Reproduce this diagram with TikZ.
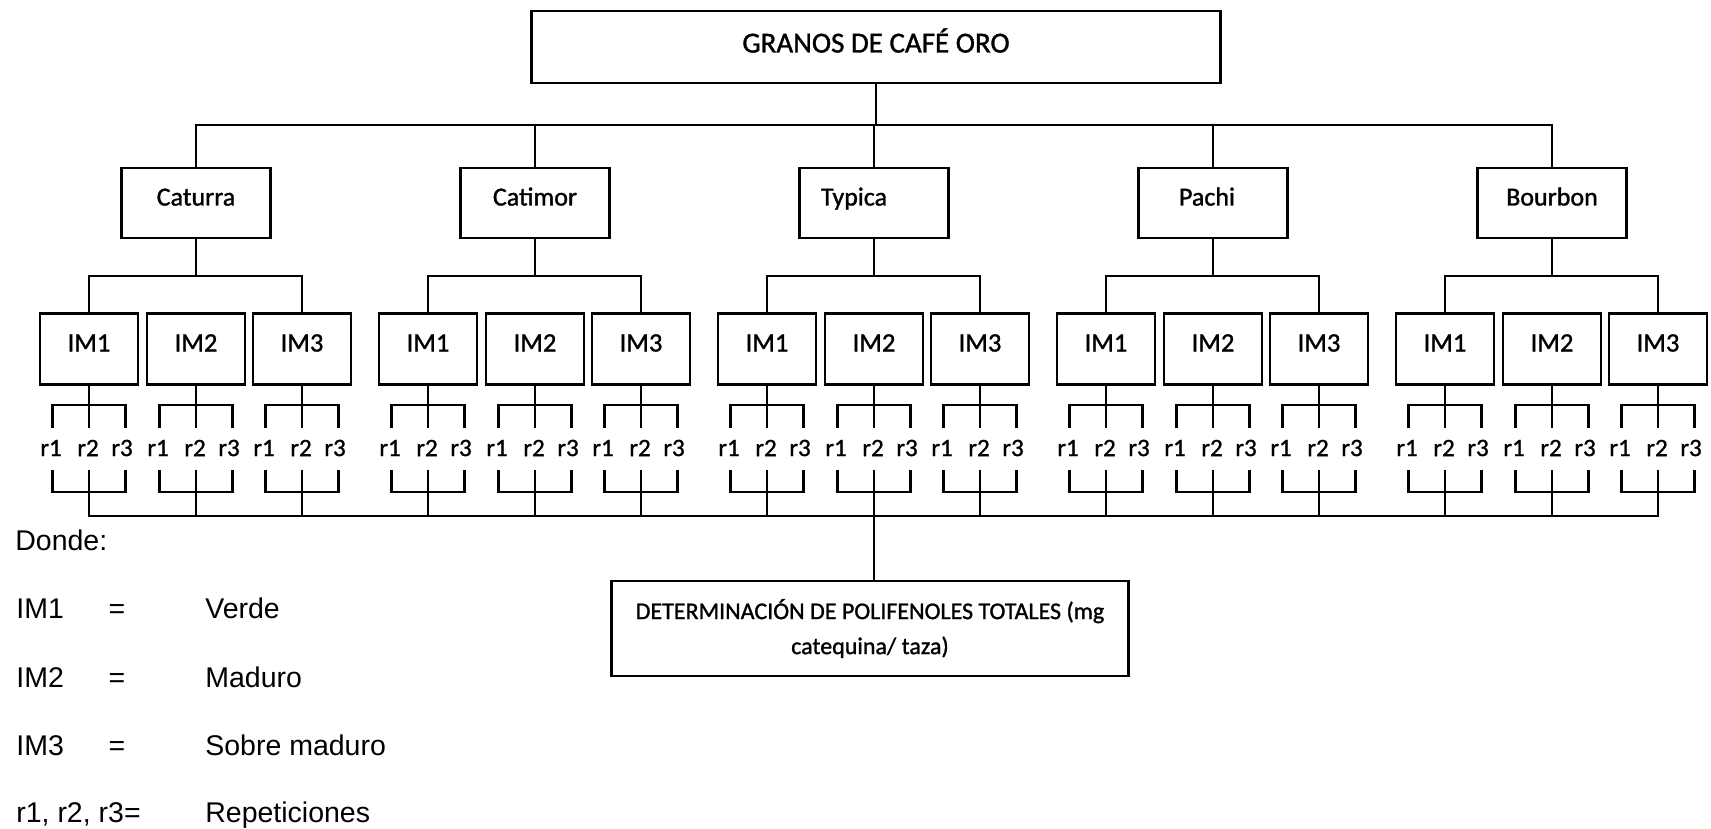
\documentclass[tikz,border=0pt]{standalone}
\usepackage{fontspec}
\setmainfont{Carlito}[FakeBold=1.2]
\newfontfamily\arialf{Liberation Sans}
\begin{document}
\begin{tikzpicture}[x=1pt,y=-1pt,
  line width=2.7pt, line cap=rect,
  boxbase/.style={draw, line width=2.7pt, inner sep=0pt, align=center},
  topbox/.style={boxbase, minimum width=689pt, minimum height=72pt, text height=19pt, text depth=8pt, font=\fontsize{29}{35}\selectfont},
  varbox/.style={boxbase, minimum width=149pt, minimum height=70pt, text height=17pt, text depth=12pt, font=\fontsize{26}{31}\selectfont},
  imbox/.style={boxbase, minimum width=98pt, minimum height=71pt, text height=17pt, text depth=12pt, font=\fontsize{26.5}{31}\selectfont},
  rlab/.style={inner sep=0pt, font=\fontsize{25}{30}\selectfont},
  botbox/.style={boxbase, minimum width=517pt, minimum height=95pt, font=\fontsize{24}{35}\selectfont},
  leg/.style={inner sep=0pt, anchor=base west, font=\arialf\fontsize{28.5}{34}\selectfont},
  legeq/.style={inner sep=0pt, anchor=base, font=\arialf\fontsize{28.5}{34}\selectfont}
]
\useasboundingbox (0,0) rectangle (1711,829);
\node[topbox] (top) at (876,47) {GRANOS DE CAFÉ ORO};
\coordinate (hub) at (876,125);
\draw (top.south) -- (hub);
\foreach \g/\nm/\sh in {0/Caturra/0,1/Catimor/0,2/Typica/40,3/Pachi/12,4/Bourbon/0}{
  \pgfmathsetmacro\vx{196+339*\g}
  \node[varbox] (v\g) at (\vx,203) {\hspace*{-\sh pt}\nm};
  \draw (v\g.north) -- (v\g.north |- hub);
  \coordinate (j\g) at (\vx,276);
  \draw (v\g.south) -- (j\g);
  \foreach \i/\off in {1/-107,2/0,3/106}{
    \pgfmathsetmacro\ix{\vx+\off}
    \node[imbox] (m\g\i) at (\ix,349) {IM\i};
    \coordinate (a\g\i) at (\ix,405);
    \coordinate (ul\g\i) at (\ix-36.5,427);
    \coordinate (um\g\i) at (\ix,427);
    \coordinate (ur\g\i) at (\ix+36.5,427);
    \draw (m\g\i.south) -- (um\g\i);
    \draw (ul\g\i) |- (a\g\i) -| (ur\g\i);
    \node[rlab] (r\g\i-1) at (\ix-38,448) {r1};
    \node[rlab] (r\g\i-2) at (\ix-1,448) {r2};
    \node[rlab] (r\g\i-3) at (\ix+33,448) {r3};
    \coordinate (ll\g\i) at (\ix-36.5,471);
    \coordinate (lm\g\i) at (\ix,471);
    \coordinate (lr\g\i) at (\ix+36.5,471);
    \coordinate (b\g\i) at (\ix,492);
    \coordinate (s\g\i) at (\ix,516);
    \draw (ll\g\i) |- (b\g\i) -| (lr\g\i);
    \draw (lm\g\i) -- (s\g\i);
  }
  \draw (m\g1.north) |- (j\g) -| (m\g3.north);
}
\draw (v0.north |- hub) -- (v4.north |- hub);
\draw (s01) -- (s43);
\node[botbox] (bot) at (870,628.5) {DETERMINACIÓN DE POLIFENOLES TOTALES (mg\\catequina/ taza)};
\draw (s22) -- (s22 |- bot.north);
\node[leg] (don) at (14,550) {Donde:};
\node[leg] (k1) at (15,618) {IM1};
\node[legeq] (e1) at (117,618) {=};
\node[leg] (d1) at (204,618) {Verde};
\node[leg] (k2) at (15,687) {IM2};
\node[legeq] (e2) at (117,687) {=};
\node[leg] (d2) at (204,687) {Maduro};
\node[leg] (k3) at (15,755) {IM3};
\node[legeq] (e3) at (117,755) {=};
\node[leg] (d3) at (204,755) {Sobre maduro};
\node[leg] (k4) at (15,822) {r1, r2, r3=};
\node[leg] (d4) at (204,822) {Repeticiones};
\end{tikzpicture}
\end{document}
